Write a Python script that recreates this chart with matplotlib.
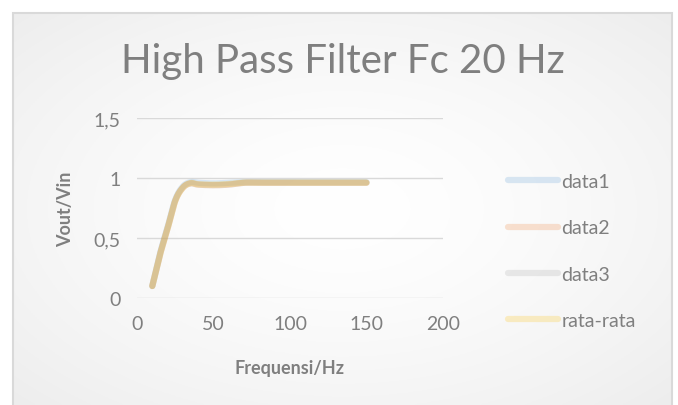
import matplotlib
matplotlib.use("Agg")
import matplotlib.pyplot as plt
import numpy as np
from matplotlib.patches import Rectangle

# ── Data ──────────────────────────────────────────────────────────────────────
freq = [10, 15, 20, 25, 30, 35, 40, 50, 60, 70, 80, 90, 100, 110, 120, 130, 140, 150]
data1 = [0.10, 0.37, 0.59, 0.82, 0.93, 0.965, 0.96, 0.955, 0.96, 0.965, 0.965, 0.965,
         0.965, 0.965, 0.965, 0.965, 0.965, 0.965]
data2 = [0.10, 0.36, 0.58, 0.81, 0.92, 0.955, 0.945, 0.94, 0.945, 0.96, 0.96, 0.96,
         0.96, 0.96, 0.96, 0.96, 0.96, 0.96]
data3 = [0.10, 0.36, 0.58, 0.81, 0.92, 0.955, 0.945, 0.94, 0.945, 0.96, 0.96, 0.96,
         0.96, 0.96, 0.96, 0.96, 0.96, 0.96]
rata_rata = [0.10, 0.36, 0.58, 0.81, 0.92, 0.958, 0.948, 0.945, 0.95, 0.962, 0.962, 0.962,
             0.962, 0.962, 0.962, 0.962, 0.962, 0.962]

series_names = ["data1", "data2", "data3", "rata-rata"]
series_colors = ["#5B9BD5", "#ED7D31", "#A5A5A5", "#FFC000"]

x_ticks = [0, 50, 100, 150, 200]
y_ticks = [0, 0.5, 1, 1.5]
y_tick_labels = ["0", "0,5", "1", "1,5"]

TXT = "#7f7f7f"
FONT = "Lato"


def smooth(xs, ys, n=20):
    """Catmull-Rom style smoothing, like Excel's 'smoothed line'."""
    xs = np.asarray(xs, float)
    ys = np.asarray(ys, float)
    px = np.concatenate([[2 * xs[0] - xs[1]], xs, [2 * xs[-1] - xs[-2]]])
    py = np.concatenate([[2 * ys[0] - ys[1]], ys, [2 * ys[-1] - ys[-2]]])
    ox, oy = [], []
    t = np.linspace(0, 1, n, endpoint=False)
    for i in range(1, len(px) - 2):
        p0, p1, p2, p3 = [np.array([px[j], py[j]]) for j in (i - 1, i, i + 1, i + 2)]
        c1 = p1 + (p2 - p0) / 6
        c2 = p2 - (p3 - p1) / 6
        pts = ((1 - t) ** 3)[:, None] * p1 + (3 * (1 - t) ** 2 * t)[:, None] * c1 \
            + (3 * (1 - t) * t ** 2)[:, None] * c2 + (t ** 3)[:, None] * p2
        ox.extend(pts[:, 0])
        oy.extend(pts[:, 1])
    ox.append(xs[-1])
    oy.append(ys[-1])
    return np.array(ox), np.array(oy)


fig = plt.figure(figsize=(6.78, 4.06), dpi=100)
fig.patch.set_facecolor("white")

# chart-area background with soft radial gradient
bg = fig.add_axes([13 / 678, 0, 659 / 678, 392 / 406])
yy, xx = np.mgrid[-1:1:200j, -1:1:300j]
rr = np.sqrt(xx ** 2 + yy ** 2) / np.sqrt(2)
shade = 1.0 - 0.07 * rr ** 1.5
bg.imshow(np.dstack([shade] * 3), aspect="auto", extent=[0, 1, 0, 1])
bg.add_patch(Rectangle((0, -0.2), 1, 1.2, fill=False, ec="#d9d9d9", lw=1.5,
                       transform=bg.transAxes, clip_on=False))
bg.set_xlim(0, 1)
bg.set_ylim(0, 1)
bg.set_axis_off()

ax = fig.add_axes([137 / 678, 107 / 406, 306 / 678, 180 / 406])
ax.patch.set_alpha(0)

for name, ys, col in zip(series_names, [data1, data2, data3, rata_rata], series_colors):
    sx, sy = smooth(freq, ys)
    ax.plot(sx, sy, color=col, alpha=0.22, lw=4.5, solid_capstyle="round", label=name)

ax.set_xlim(0, 200)
ax.set_ylim(0, 1.5)
ax.set_xticks(x_ticks)
ax.set_yticks(y_ticks)
ax.set_yticklabels(y_tick_labels)
ax.grid(axis="y", color="#d9d9d9", lw=1)
ax.set_axisbelow(True)
for s in ax.spines.values():
    s.set_visible(False)
ax.tick_params(length=0, labelsize=14, labelcolor=TXT, pad=12)
for lab in ax.get_xticklabels() + ax.get_yticklabels():
    lab.set_fontfamily(FONT)

ax.set_xlabel("Frequensi/Hz", fontsize=13, fontweight="bold", color=TXT,
              fontfamily=FONT, labelpad=20)
ax.set_ylabel("Vout/Vin", fontsize=13, fontweight="bold", color=TXT,
              fontfamily=FONT, labelpad=14)

fig.text(343 / 678, 1 - 62 / 406, "High Pass Filter Fc 20 Hz", ha="center", va="center",
         fontsize=29, color=TXT, fontfamily=FONT)

leg = ax.legend(loc="upper left", bbox_to_anchor=(1.155, 0.79), frameon=False,
                handlelength=2.6, handletextpad=0.15, labelspacing=1.5,
                prop={"family": FONT, "size": 14})
for t in leg.get_texts():
    t.set_color(TXT)
for h in leg.get_lines():
    h.set_alpha(0.22)
    h.set_linewidth(4.5)

fig.savefig("out.png", dpi=100)
